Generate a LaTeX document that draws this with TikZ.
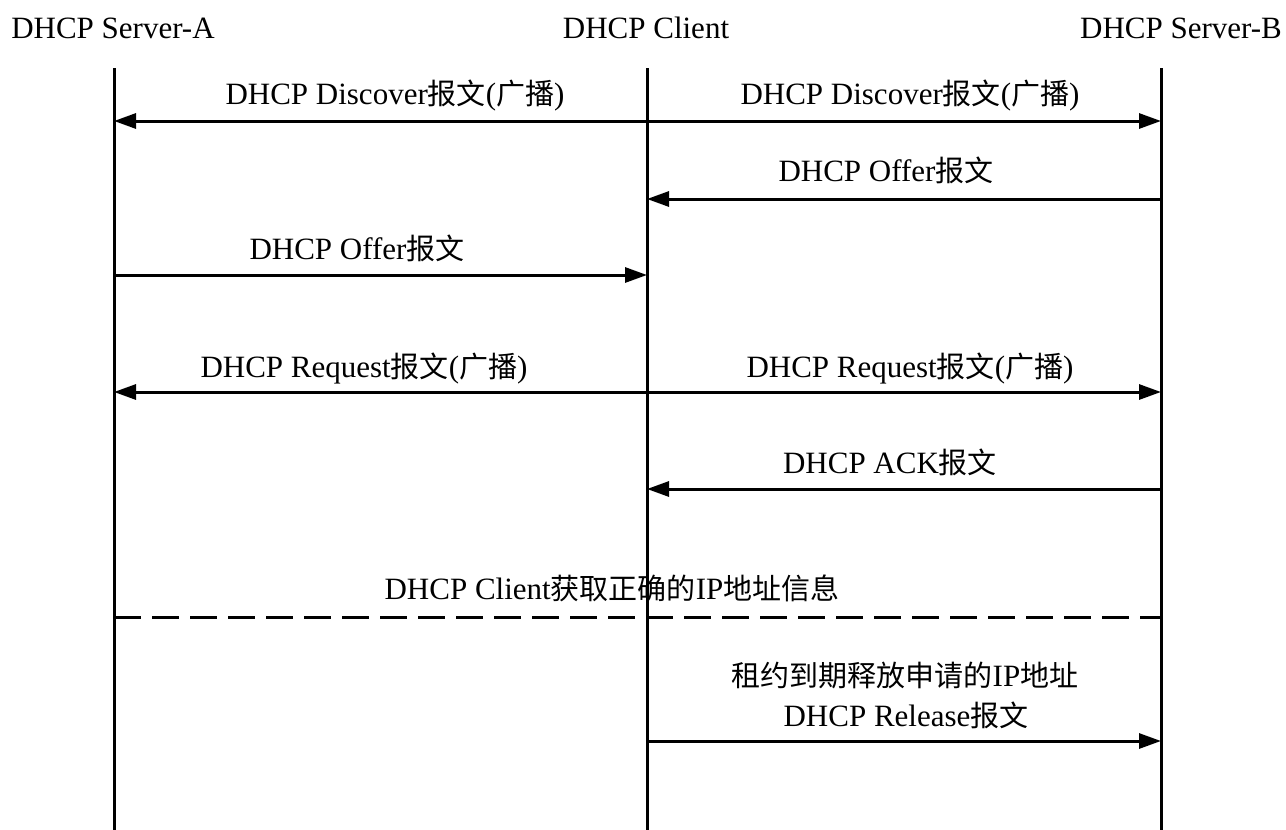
\documentclass[tikz,border=0pt]{standalone}
\usepackage{fontspec}
\setmainfont{Liberation Serif}
\newfontfamily\zhfont{Noto Sans CJK SC}
\newcommand{\zh}[1]{{\zhfont\fontsize{29}{34}\selectfont #1}}
\usetikzlibrary{arrows.meta}
\begin{document}
\begin{tikzpicture}[x=1pt,y=-1pt,
  lifeline/.style={line width=3pt},
  msg/.style={line width=3pt,-{Triangle[length=22pt,width=15pt]}},
  sep/.style={line width=3pt,dash pattern=on 27pt off 11pt},
  lbl/.style={font=\fontsize{31}{36}\selectfont,inner sep=0pt,anchor=base},
  hdr/.style={font=\fontsize{31}{36}\selectfont,inner sep=0pt,anchor=base}]
\useasboundingbox (0,0) rectangle (1286,830);
% headers
\node[hdr] (hA) at (113,38) {DHCP Server-A};
\node[hdr] (hC) at (646,38) {DHCP Client};
\node[hdr] (hB) at (1181,38) {DHCP Server-B};
% lifeline ends
\coordinate (At) at (114,68); \coordinate (Ab) at (114,830);
\coordinate (Ct) at (647,68); \coordinate (Cb) at (647,830);
\coordinate (Bt) at (1161,68); \coordinate (Bb) at (1161,830);
\draw[lifeline] (At) -- (Ab);
\draw[lifeline] (Ct) -- (Cb);
\draw[lifeline] (Bt) -- (Bb);
% message points
\foreach \n/\y in {1/121,2/199,3/275,4/392,5/489,6/617,7/741}{
  \coordinate (A\n) at (114,\y);
  \coordinate (C\n) at (647,\y);
  \coordinate (B\n) at (1161,\y);
}
% discover
\draw[msg] (C1) -- (A1);
\draw[msg] (C1) -- (B1);
\node[lbl] (l1a) at (395,104) {DHCP Discover\zh{报文}(\zh{广播})};
\node[lbl] (l1b) at (910,104) {DHCP Discover\zh{报文}(\zh{广播})};
% offer B
\draw[msg] (B2) -- (C2);
\node[lbl] (l2) at (886,181) {DHCP Offer\zh{报文}};
% offer A
\draw[msg] (A3) -- (C3);
\node[lbl] (l3) at (357,259) {DHCP Offer\zh{报文}};
% request
\draw[msg] (C4) -- (A4);
\draw[msg] (C4) -- (B4);
\node[lbl] (l4a) at (364,377) {DHCP Request\zh{报文}(\zh{广播})};
\node[lbl] (l4b) at (910,377) {DHCP Request\zh{报文}(\zh{广播})};
% ack
\draw[msg] (B5) -- (C5);
\node[lbl] (l5) at (890,473) {DHCP ACK\zh{报文}};
% separator
\draw[sep] (A6) -- (B6);
\node[lbl] (l6) at (612,599) {DHCP Client\zh{获取正确的}IP\zh{地址信息}};
% release
\draw[msg] (C7) -- (B7);
\node[lbl] (l7a) at (905,686) {\zh{租约到期释放申请的}IP\zh{地址}};
\node[lbl] (l7b) at (906,726) {DHCP Release\zh{报文}};
\end{tikzpicture}
\end{document}
